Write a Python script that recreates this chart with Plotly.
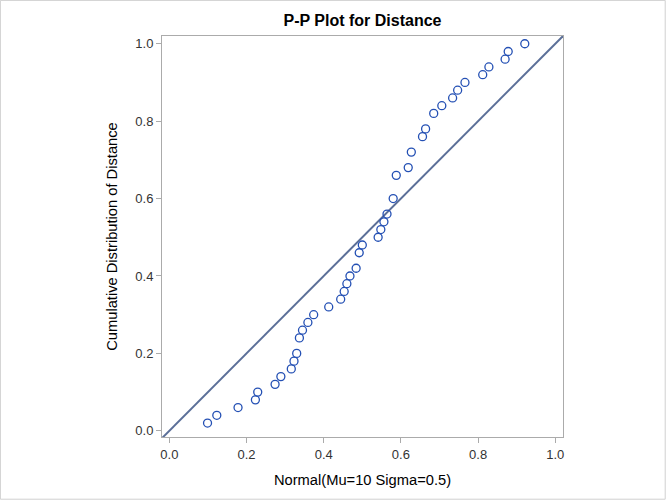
import plotly.graph_objects as go

# P-P plot values
normal_cdf = [0.099, 0.123, 0.178, 0.223, 0.229, 0.274, 0.289, 0.316, 0.323, 0.330,
              0.337, 0.345, 0.359, 0.374, 0.413, 0.444, 0.453, 0.460, 0.468, 0.484,
              0.492, 0.500, 0.541, 0.548, 0.556, 0.564, 0.580, 0.588, 0.619, 0.627,
              0.656, 0.664, 0.685, 0.706, 0.734, 0.747, 0.766, 0.812, 0.828, 0.870,
              0.878, 0.921]
empirical_cdf = [0.02, 0.04, 0.06, 0.08, 0.10, 0.12, 0.14, 0.16, 0.18, 0.20,
                 0.24, 0.26, 0.28, 0.30, 0.32, 0.34, 0.36, 0.38, 0.40, 0.42,
                 0.46, 0.48, 0.50, 0.52, 0.54, 0.56, 0.60, 0.66, 0.68, 0.72,
                 0.76, 0.78, 0.82, 0.84, 0.86, 0.88, 0.90, 0.92, 0.94, 0.96,
                 0.98, 1.00]
ref_line = [-0.05, 1.05]
tick_vals = [0.0, 0.2, 0.4, 0.6, 0.8, 1.0]
tick_text = ["0.0", "0.2", "0.4", "0.6", "0.8", "1.0"]

font = "Arial, Liberation Sans, sans-serif"

fig = go.Figure()

# reference diagonal
fig.add_trace(go.Scatter(
    x=ref_line, y=ref_line, mode="lines",
    line=dict(color="#5b6f98", width=2),
    showlegend=False, hoverinfo="skip"
))

fig.add_trace(go.Scatter(
    x=normal_cdf, y=empirical_cdf, mode="markers",
    marker=dict(symbol="circle-open", size=8, color="#2450b4",
                line=dict(width=1.3, color="#2450b4")),
    showlegend=False
))

axis_common = dict(
    showline=True, linecolor="#ababab", linewidth=1, mirror=True,
    ticks="outside", ticklen=5, tickcolor="#ababab",
    showgrid=False, zeroline=False,
    tickvals=tick_vals, ticktext=tick_text,
    tickfont=dict(family=font, size=13, color="#333333"),
)

fig.update_xaxes(range=[-0.019, 1.020],
                 title=dict(text="Normal(Mu=10 Sigma=0.5)", standoff=14,
                            font=dict(family=font, size=14.7, color="#000000")),
                 **axis_common)
fig.update_yaxes(range=[-0.016, 1.020],
                 title=dict(text="Cumulative Distribution of Distance", standoff=14,
                            font=dict(family=font, size=14.7, color="#000000")),
                 **axis_common)

# light frame around the whole image
fig.add_shape(type="rect", xref="paper", yref="paper",
              x0=-162 / 401 + 0.001, x1=1 + 103 / 401 - 0.002,
              y0=-63 / 401 + 0.002, y1=1 + 36 / 401 - 0.001,
              line=dict(color="#d0d0d0", width=1), layer="below")

fig.update_layout(
    width=666, height=500,
    margin=dict(l=162, r=103, t=36, b=63),
    paper_bgcolor="white", plot_bgcolor="white",
    title=dict(text="<b>P-P Plot for Distance</b>", x=0.5, xref="paper",
               y=1 - 20 / 500, yanchor="middle",
               font=dict(family=font, size=16, color="#000000")),
)

fig.write_html("out.html", config={"displayModeBar": False},
               post_script="document.body.style.margin='0px';")
